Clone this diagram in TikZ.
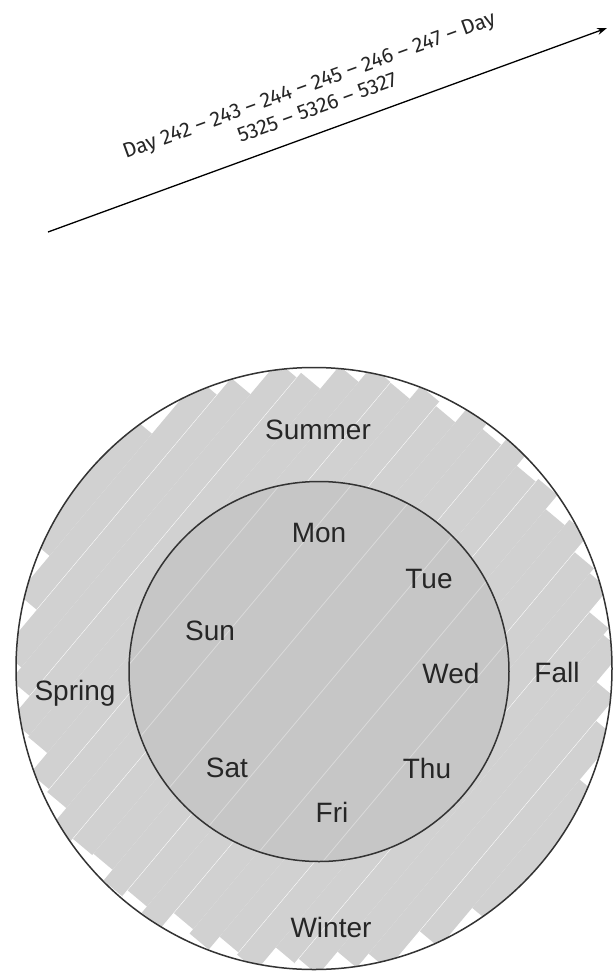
\documentclass[tikz,border=0pt]{standalone}
\usepackage{fontspec}
\setmainfont{Liberation Sans}
\newfontfamily\dayfont{Fira Sans}
\usetikzlibrary{arrows.meta}
\definecolor{ringgray}{HTML}{D1D1D1}
\definecolor{innergray}{HTML}{C6C6C6}
\definecolor{linedark}{HTML}{333333}
\definecolor{textdark}{HTML}{262626}
\begin{document}
\begin{tikzpicture}[x=1pt,y=-1pt,
  lbl/.style={font=\fontsize{28}{30}\selectfont, text=textdark, inner sep=0pt},
  rim/.style={draw=linedark, line width=1.5pt},
  stripe/.style={draw=white, line width=1pt}]
\useasboundingbox (0,0) rectangle (616,975);
\fill[white] (0,0) rectangle (616,975);
% time line
\coordinate (a0) at (48,232);
\coordinate (a1) at (607,28);
\draw[line width=1.3pt, -{Stealth[length=10pt,width=7pt]}] (a0) -- (a1);
\node[rotate=20, align=center, inner sep=0pt, font=\dayfont\fontsize{21}{24}\selectfont, text=textdark] (days) at (313,96)
  {Day 242 – 243 – 244 – 245 – 246 – 247 – Day\\5325 – 5326 – 5327};
% striped grey disc
\begin{scope}
\clip (314,668.5) ellipse [x radius=298pt, y radius=301pt];
\begin{scope}[shift={(314,668.5)}, rotate=50]
\foreach \v/\a/\b/\s in {-287.5/-2/-10/0, -262.5/-12/2/1, -237.5/4/-14/0, -212.5/-8/0/1, -187.5/0/-16/0, -162.5/-16/-4/0, -137.5/-4/2/1, -112.5/-12/-10/0, -87.5/2/-2/1, -62.5/-8/-14/0, -37.5/-14/0/0, -12.5/-2/-8/1, 12.5/-10/2/0, 37.5/0/-12/1, 62.5/-16/-4/0, 87.5/-4/-16/0, 112.5/-12/0/1, 137.5/2/-10/0, 162.5/-14/-2/1, 187.5/-2/-14/0, 212.5/-10/0/0, 237.5/0/-12/1, 262.5/-12/-4/0, 287.5/-4/0/0} {
  \pgfmathsetmacro\L{100*sqrt(9.0-(\v/100)^2)}
  \fill[ringgray] ({-\L-\a},{\v-12.5}) rectangle ({\L+\b},{\v+12.5});
  \ifnum\s=1 \draw[stripe] ({-\L-\a},{\v+12.5}) -- ({\L+\b},{\v+12.5}); \fi
}
\end{scope}
\end{scope}
% inner disc
\fill[innergray] (319,671.5) circle (190pt);
\begin{scope}
\clip (319,671.5) circle (190pt);
\begin{scope}[shift={(319,671.5)}, rotate=50]
\foreach \v in {-150,-95,-40,15,70,125}
  \draw[white, opacity=0.35, line width=0.8pt] (-200,\v) -- (200,\v);
\end{scope}
\end{scope}
\draw[rim] (314,668.5) ellipse [x radius=298pt, y radius=301pt];
\draw[rim] (319,671.5) circle (190pt);
% labels
\node[lbl] (summer) at (318,430) {Summer};
\node[lbl] (spring) at (75,693) {Spring};
\node[lbl] (fall) at (557,672) {Fall};
\node[lbl] (winter) at (331,927) {Winter};
\node[lbl] (mon) at (319,533) {Mon};
\node[lbl] (tue) at (429,579) {Tue};
\node[lbl] (wed) at (451,673) {Wed};
\node[lbl] (thu) at (427,768) {Thu};
\node[lbl] (fri) at (332,812) {Fri};
\node[lbl] (sat) at (227,768) {Sat};
\node[lbl] (sun) at (210,631) {Sun};
\end{tikzpicture}
\end{document}
